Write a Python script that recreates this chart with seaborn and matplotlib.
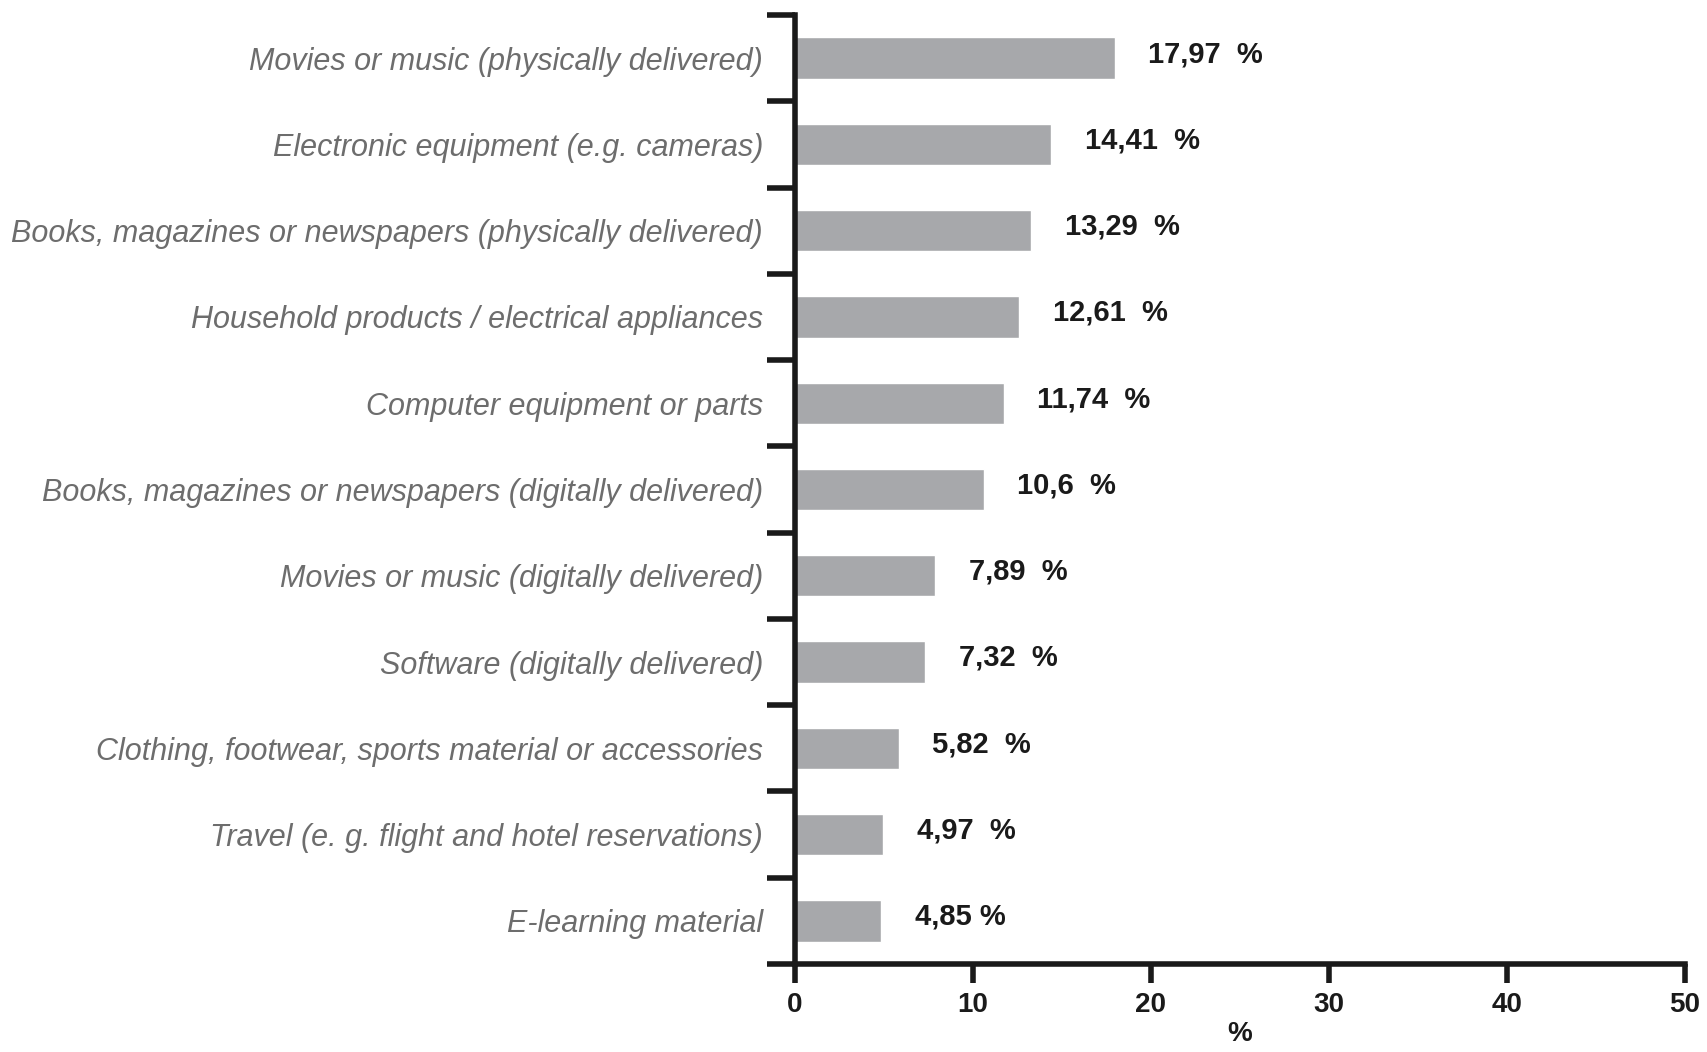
import matplotlib
matplotlib.use('Agg')
import matplotlib.pyplot as plt
import seaborn as sns
import pandas as pd
import numpy as np

categories = ['Movies or music (physically delivered)',
              'Electronic equipment (e.g. cameras)',
              'Books, magazines or newspapers (physically delivered)',
              'Household products / electrical appliances',
              'Computer equipment or parts',
              'Books, magazines or newspapers (digitally delivered)',
              'Movies or music (digitally delivered)',
              'Software (digitally delivered)',
              'Clothing, footwear, sports material or accessories',
              'Travel (e. g. flight and hotel reservations)',
              'E-learning material']
values = [17.97, 14.41, 13.29, 12.61, 11.74, 10.6, 7.89, 7.32, 5.82, 4.97, 4.85]
value_labels = ['17,97  %', '14,41  %', '13,29  %', '12,61  %', '11,74  %', '10,6  %',
                '7,89  %', '7,32  %', '5,82  %', '4,97  %', '4,85 %']
xticks = [0, 10, 20, 30, 40, 50]

df = pd.DataFrame({'cat': categories, 'val': values})

sns.set_style('white')
plt.rcParams['font.family'] = ['Liberation Sans', 'DejaVu Sans']

fig = plt.figure(figsize=(17.07, 10.52), dpi=100)
ax = fig.add_axes([0.4657, 0.0837, 0.5213, 0.902])

sns.barplot(data=df, x='val', y='cat', orient='h', color='#a7a8ab',
            saturation=1, width=0.48, ax=ax)

narrow = ['Liberation Sans Narrow', 'Liberation Sans', 'DejaVu Sans']
for i, (v, lab) in enumerate(zip(values, value_labels)):
    ax.annotate(lab, xy=(v, i), xytext=(24, 3), textcoords='offset points',
                ha='left', va='center', fontsize=21, fontweight='bold',
                color='#1a1a1a', family=narrow)

ax.set_xlim(0, 50)
ax.set_ylim(len(categories) - 0.5, -0.5)
ax.set_xticks(xticks)
ax.set_xticklabels([str(t) for t in xticks], fontsize=20, fontweight='bold',
                   family=narrow, color='#1a1a1a')
ax.set_yticks(range(len(categories)))
ax.set_yticklabels(categories, fontsize=22, style='italic', color='#6d6d6d')
ax.tick_params(axis='y', which='major', length=0, pad=23)
ax.set_yticks(np.arange(-0.5, len(categories), 1), minor=True)
ax.tick_params(axis='y', which='minor', length=20, width=4, color='#1a1a1a', left=True)
ax.tick_params(axis='x', which='major', length=14, width=4, color='#1a1a1a',
               bottom=True, pad=6)

ax.set_xlabel('%', fontsize=20, fontweight='bold', family=narrow, color='#1a1a1a', labelpad=2)
ax.set_ylabel('')

for s in ['top', 'right']:
    ax.spines[s].set_visible(False)
for s in ['left', 'bottom']:
    ax.spines[s].set_linewidth(4)
    ax.spines[s].set_color('#1a1a1a')

plt.savefig('out.png', dpi=100)
